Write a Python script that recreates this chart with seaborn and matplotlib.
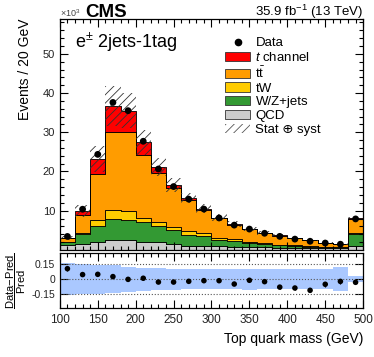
import numpy as np
import pandas as pd
import seaborn as sns
import matplotlib
matplotlib.use("Agg")
import matplotlib.pyplot as plt
from matplotlib.patches import Patch
from matplotlib.lines import Line2D

# bin edges in GeV, events in units of 10^3
edges = list(range(100, 520, 20))
qcd = [1.2, 1.45, 2.1, 2.55, 2.55, 2.1, 2.0, 1.6, 1.1, 1.0,
       0.9, 0.8, 0.7, 0.65, 0.6, 0.55, 0.5, 0.45, 0.4, 1.1]
wzjets = [0.7, 2.55, 4.0, 5.35, 5.15, 4.9, 4.1, 3.5, 2.7, 2.6,
          1.65, 1.4, 1.0, 0.8, 0.55, 0.45, 0.35, 0.3, 0.25, 2.9]
tw = [0.2, 0.3, 1.5, 2.3, 2.3, 1.2, 1.1, 0.7, 1.1, 0.65,
      0.45, 0.5, 0.25, 0.25, 0.2, 0.15, 0.15, 0.1, 0.1, 0.4]
ttbar = [0.85, 4.5, 11.7, 19.8, 20.0, 16.0, 12.5, 9.9, 7.8, 6.0,
         5.05, 3.75, 3.26, 2.52, 2.29, 1.78, 1.4, 0.94, 0.69, 3.44]
tchan = [0.15, 1.1, 3.9, 6.6, 5.5, 3.2, 1.5, 0.9, 0.5, 0.3,
         0.2, 0.18, 0.15, 0.12, 0.1, 0.08, 0.07, 0.05, 0.04, 0.3]
data = [3.43, 10.37, 24.36, 37.6, 35.5, 27.7, 20.63, 16.15, 12.94, 10.41,
        8.14, 6.32, 5.31, 4.24, 3.45, 2.75, 2.2, 1.75, 1.45, 7.9]
# relative stat+syst uncertainty per bin
rel_unc = [0.16, 0.15, 0.145, 0.14, 0.125, 0.115, 0.11, 0.105, 0.1, 0.1,
           0.1, 0.1, 0.105, 0.1, 0.1, 0.1, 0.1, 0.1, 0.12, 0.03]

processes = ["t channel", "tt", "tW", "W/Z+jets", "QCD"]
labels = ["$t$ channel", r"t$\bar{\mathrm{t}}$", "tW", "W/Z+jets", "QCD"]
colors = {"t channel": "#ff0000", "tt": "#ff9c00", "tW": "#ffcc00",
          "W/Z+jets": "#339933", "QCD": "#cccccc"}
band_color = "#aac8ff"


def setup_fonts():
    """Helvetica-like text everywhere"""
    plt.rcParams["font.family"] = ["Liberation Sans", "DejaVu Sans"]
    plt.rcParams["mathtext.fontset"] = "custom"
    plt.rcParams["mathtext.rm"] = "Liberation Sans"
    plt.rcParams["mathtext.it"] = "Liberation Sans:italic"
    plt.rcParams["mathtext.bf"] = "Liberation Sans:bold"
    plt.rcParams["hatch.linewidth"] = 0.6
    plt.rcParams["axes.linewidth"] = 0.9


def root_ticks(ax):
    """Ticks inside on all four sides"""
    ax.tick_params(which="both", direction="in", top=True, right=True,
                   width=0.8, labelsize=8, labelcolor="#222222")
    ax.tick_params(which="major", length=6)
    ax.tick_params(which="minor", length=3)


def main():
    setup_fonts()
    centers = np.array(edges[:-1]) + 10
    stack = {"t channel": tchan, "tt": ttbar, "tW": tw,
             "W/Z+jets": wzjets, "QCD": qcd}
    df = pd.concat([pd.DataFrame({"mass": centers, "events": stack[p],
                                  "process": p}) for p in processes],
                   ignore_index=True)
    total = np.sum([np.array(stack[p]) for p in processes], axis=0)
    unc = total * np.array(rel_unc)
    data_arr = np.array(data)

    fig = plt.figure(figsize=(3.74, 3.57), dpi=100)
    ax = fig.add_axes([0.160, 0.300, 0.811, 0.647])
    rax = fig.add_axes([0.160, 0.136, 0.811, 0.156])

    sns.histplot(data=df, x="mass", weights="events", hue="process",
                 hue_order=processes, bins=edges, multiple="stack",
                 element="step", palette=colors, edgecolor="black",
                 linewidth=0.6, alpha=1, legend=False, ax=ax)
    ax.bar(centers, 2 * unc, bottom=total - unc, width=20,
           facecolor="none", edgecolor="#333333", hatch="////", linewidth=0)
    ax.errorbar(centers, data_arr, yerr=np.sqrt(data_arr * 1e3) / 1e3,
                fmt="none", ecolor="black", elinewidth=0.8)
    sns.scatterplot(x=centers, y=data_arr, color="black", s=24,
                    edgecolor="none", ax=ax, zorder=5)

    ax.set_xlim(100, 500)
    ax.set_ylim(0, 58.9)
    ax.set_xticks(range(100, 501, 50))
    ax.set_xticks(range(100, 501, 10), minor=True)
    ax.set_yticks([10, 20, 30, 40, 50])
    ax.set_yticks(np.arange(2, 59, 2), minor=True)
    ax.set_xticklabels([])
    ax.set_xlabel("")
    ax.set_ylabel("Events / 20 GeV", fontsize=10, loc="top")
    ax.yaxis.set_label_coords(-0.092, 1.0)
    root_ticks(ax)

    ax.text(0.05, 0.874, r"e$^{\pm}$ 2jets-1tag", fontsize=13,
            transform=ax.transAxes, va="baseline")

    handles = [Line2D([], [], marker="o", color="black", linestyle="none",
                      markersize=4.5)]
    handles += [Patch(facecolor=colors[p], edgecolor="#333333",
                      linewidth=0.6) for p in processes]
    handles.append(Patch(facecolor="none", edgecolor="#555555",
                         hatch="////", linewidth=0))
    ax.legend(handles, ["Data"] + labels + ["Stat ⊕ syst"],
              loc="upper left", bbox_to_anchor=(0.545, 0.922),
              frameon=False, fontsize=9.5, handlelength=1.9,
              handleheight=0.7, handletextpad=0.4, labelspacing=0.12,
              borderaxespad=0, borderpad=0)

    # ratio panel
    ratio = data_arr / total - 1
    ratio_err = np.sqrt(data_arr * 1e3) / 1e3 / total
    rax.bar(centers, 2 * np.array(rel_unc), bottom=-np.array(rel_unc),
            width=20, color=band_color, linewidth=0)
    for level in (-0.15, 0, 0.15):
        rax.axhline(level, color="#555555", linestyle=":", linewidth=0.8)
    rax.errorbar(centers, ratio, yerr=ratio_err, fmt="none",
                 ecolor="black", elinewidth=0.8)
    sns.scatterplot(x=centers, y=ratio, color="black", s=16,
                    edgecolor="none", ax=rax, zorder=5)
    rax.set_xlim(100, 500)
    rax.set_ylim(-0.29, 0.265)
    rax.set_xticks(range(100, 501, 50))
    rax.set_xticks(range(100, 501, 10), minor=True)
    rax.set_yticks([-0.15, 0, 0.15], ["-0.15", "0", "0.15"])
    root_ticks(rax)
    rax.tick_params(axis="x", labelsize=8.5, pad=4)
    rax.tick_params(axis="y", labelsize=7.5)
    rax.set_xlabel("Top quark mass (GeV)", fontsize=10, loc="right")
    rax.set_ylabel(r"$\dfrac{\mathrm{Data\!-\!Pred}}{\mathrm{Pred}}$",
                   fontsize=8)
    rax.yaxis.set_label_coords(-0.105, 0.5)

    fig.text(0.160, 0.952, r"$\times$10$^{3}$", fontsize=6.5,
             color="#444444", va="baseline")
    fig.text(0.227, 0.952, "CMS", fontsize=13.5, fontweight="bold",
             va="baseline")
    fig.text(0.971, 0.955, r"35.9 fb$^{-1}$ (13 TeV)", fontsize=9.5,
             ha="right", va="baseline")

    fig.savefig("out.png", dpi=100)


if __name__ == "__main__":
    main()
